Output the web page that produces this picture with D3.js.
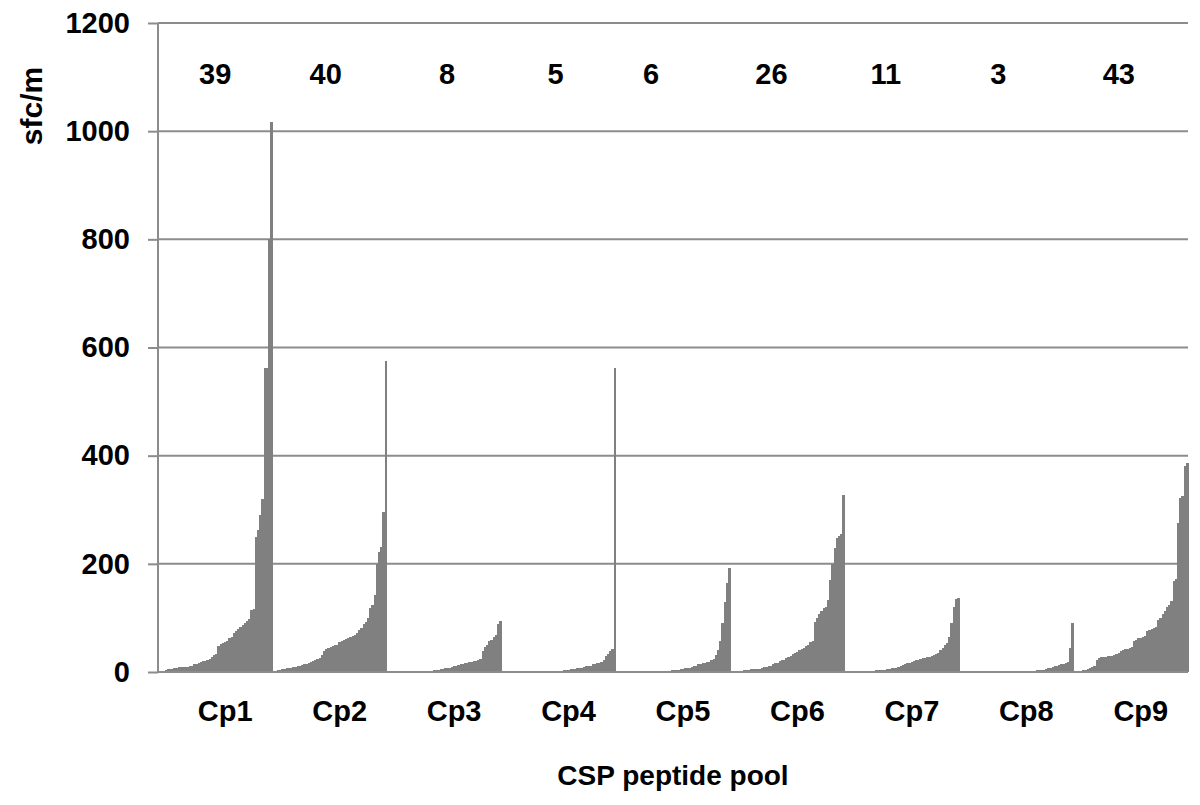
<!DOCTYPE html>
<html>
<head>
<meta charset="utf-8">
<script src="https://cdn.jsdelivr.net/npm/d3@7"></script>
<style>
  body { margin: 0; background: #fff; }
  text { font-family: "Liberation Sans", Arial, sans-serif; font-weight: bold; fill: #000; }
</style>
</head>
<body>
<svg id="chart"></svg>
<script>
// pools and the count shown above each pool
var pools = ["Cp1", "Cp2", "Cp3", "Cp4", "Cp5", "Cp6", "Cp7", "Cp8", "Cp9"];
var counts = [39, 40, 8, 5, 6, 26, 11, 3, 43];
var yTicks = [0, 200, 400, 600, 800, 1000, 1200];

// sfc/m per subject, sorted, one array per pool
var cp1 = [0, 4, 5, 5, 6, 7, 8, 9, 9, 9, 10, 10, 11, 12, 14, 15, 16, 18, 20, 21, 22, 24, 28, 31, 34,
  48, 51, 54, 56, 58, 62, 64, 72, 76, 80, 84, 86, 90, 94, 98, 114, 117, 250, 262, 290, 320, 563, 563, 800, 1017];
var cp2 = [3, 4, 5, 6, 7, 7, 8, 9, 10, 11, 12, 13, 14, 15, 16, 18, 20, 22, 24, 26, 32, 38, 42, 44, 46,
  48, 49, 50, 56, 58, 60, 61, 62, 64, 66, 68, 72, 78, 82, 88, 92, 100, 118, 124, 142, 200, 222, 232, 296, 575];
var cp3 = [0, 0, 0, 0, 0, 0, 0, 0, 0, 0, 0, 0, 1, 1, 1, 1, 2, 2, 2, 3, 4, 4, 5, 6, 7,
  7, 8, 10, 11, 12, 13, 14, 15, 16, 17, 18, 19, 20, 21, 22, 24, 38, 46, 49, 57, 60, 64, 68, 88, 94];
var cp4 = [0, 0, 0, 0, 0, 0, 0, 0, 0, 0, 0, 0, 0, 0, 0, 0, 1, 1, 1, 1, 1, 1, 2, 2, 2,
  2, 3, 3, 4, 5, 6, 6, 7, 7, 8, 10, 11, 11, 12, 14, 15, 16, 17, 18, 23, 29, 34, 38, 43, 563];
var cp5 = [0, 0, 0, 0, 0, 0, 0, 0, 0, 0, 0, 0, 0, 0, 1, 1, 1, 1, 1, 2, 2, 2, 2, 3, 3,
  4, 4, 5, 6, 7, 7, 8, 10, 11, 12, 14, 15, 16, 17, 18, 19, 22, 24, 32, 41, 57, 90, 130, 165, 193];
var cp6 = [0, 1, 1, 2, 3, 4, 4, 5, 5, 5, 6, 6, 7, 9, 10, 11, 12, 15, 16, 17, 20, 22, 23, 26, 28,
  30, 33, 35, 37, 40, 42, 44, 48, 50, 55, 58, 92, 100, 108, 112, 118, 121, 133, 170, 200, 230, 248, 252, 256, 327];
var cp7 = [0, 0, 0, 0, 0, 0, 1, 1, 1, 2, 2, 2, 3, 3, 4, 4, 4, 5, 5, 7, 7, 8, 9, 12, 13,
  14, 16, 17, 18, 20, 22, 23, 24, 25, 26, 27, 28, 29, 31, 33, 35, 41, 45, 50, 54, 64, 90, 120, 135, 137];
var cp8 = [0, 0, 0, 0, 0, 0, 0, 0, 0, 0, 0, 0, 0, 0, 0, 0, 0, 0, 0, 0, 0, 0, 0, 0, 1,
  1, 1, 1, 1, 2, 2, 2, 2, 3, 3, 4, 4, 6, 7, 8, 9, 11, 12, 13, 14, 15, 17, 19, 44, 90];
var cp9 = [1, 2, 3, 4, 5, 8, 10, 12, 22, 25, 27, 28, 28, 29, 29, 30, 32, 33, 35, 39, 41, 42, 43, 44, 46,
  58, 60, 62, 63, 64, 66, 76, 78, 80, 82, 84, 96, 100, 108, 112, 120, 123, 131, 168, 172, 275, 322, 326, 380, 387];

var series = [cp1, cp2, cp3, cp4, cp5, cp6, cp7, cp8, cp9];

// layout
var W = 1200, H = 805;
var margin = {top: 23, right: 12, bottom: 133, left: 158};
var barColor = "#808080", gridColor = "#8c8c8c";
var countNudge = [0, -4, 3, -3, -22, -16, -16, -18, -12]; // hand placed count labels

var svg = d3.select("#chart").attr("width", W).attr("height", H);

var x0 = d3.scaleBand().domain(pools).range([margin.left, W - margin.right]);
var x1 = d3.scaleBand().domain(d3.range(-2, 50)).range([0, x0.bandwidth()]);
var y = d3.scaleLinear().domain([0, 1200]).range([H - margin.bottom, margin.top]);

//gridlines
svg.append("g").selectAll("line").data(yTicks.slice(1)).join("line")
  .attr("x1", margin.left).attr("x2", W - margin.right)
  .attr("y1", function(d) { return y(d); }).attr("y2", function(d) { return y(d); })
  .attr("stroke", gridColor).attr("stroke-width", 2);

//bars
var groups = svg.append("g").attr("shape-rendering", "crispEdges")
  .selectAll("g").data(series).join("g")
  .attr("transform", function(d, i) { return "translate(" + x0(pools[i]) + ",0)"; });

groups.selectAll("rect").data(function(d) { return d; }).join("rect")
  .attr("x", function(d, i) { return x1(i); })
  .attr("width", x1.bandwidth() + 0.6)
  .attr("y", function(d) { return y(d); })
  .attr("height", function(d) { return y(0) - y(d); })
  .attr("fill", barColor);

//y axis
var yaxis = d3.axisLeft(y).tickValues(yTicks).tickSize(10).tickPadding(18).tickFormat(d3.format("d"));
var gy = svg.append("g").attr("transform", "translate(" + margin.left + ",0)").call(yaxis);
gy.select(".domain").attr("stroke", gridColor).attr("stroke-width", 2).attr("d", "M0," + y(1200) + "V" + y(0));
gy.selectAll(".tick line").attr("stroke", gridColor).attr("stroke-width", 2);
gy.selectAll(".tick text").attr("font-size", 29).attr("font-family", null).attr("fill", "#000");

//x axis line
svg.append("line")
  .attr("x1", margin.left).attr("x2", W - margin.right)
  .attr("y1", y(0)).attr("y2", y(0))
  .attr("stroke", gridColor).attr("stroke-width", 2);

//pool labels
svg.append("g").selectAll("text").data(pools).join("text")
  .attr("x", function(d) { return x0(d) + x0.bandwidth() / 2 + 10; })
  .attr("y", 721)
  .attr("text-anchor", "middle")
  .attr("font-size", 29)
  .text(function(d) { return d; });

//counts
svg.append("g").selectAll("text").data(counts).join("text")
  .attr("x", function(d, i) { return x0(pools[i]) + x0.bandwidth() / 2 + countNudge[i]; })
  .attr("y", 84)
  .attr("text-anchor", "middle")
  .attr("font-size", 29)
  .text(function(d) { return d; });

//axis titles
svg.append("text")
  .attr("x", 673).attr("y", 785)
  .attr("text-anchor", "middle")
  .attr("font-size", 28)
  .text("CSP peptide pool");

svg.append("text")
  .attr("transform", "translate(42,106) rotate(-90)")
  .attr("text-anchor", "middle")
  .attr("font-size", 30)
  .text("sfc/m");
</script>
</body>
</html>
